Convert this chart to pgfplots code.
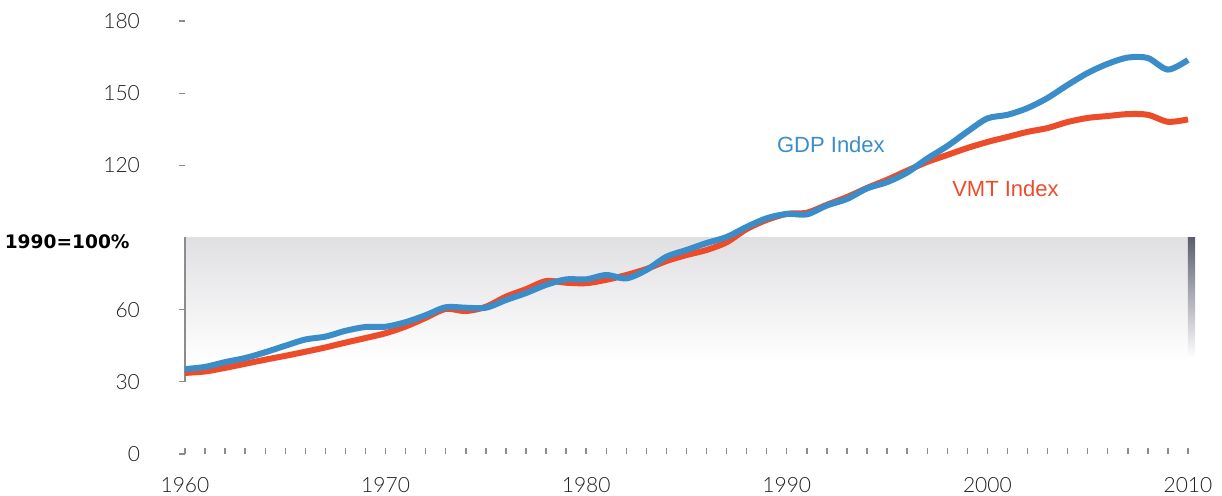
\documentclass[border=0pt]{standalone}
\usepackage{fontspec}
\setmainfont{Liberation Sans}
\newfontfamily\tickfont{Lato Light}
\newfontfamily\boldfont{DejaVu Sans}
\usepackage{pgfplots}
\pgfplotsset{compat=1.18}
\usepackage{pgfplotstable}
\definecolor{gdpblue}{RGB}{58,141,200}
\definecolor{vmtred}{RGB}{236,76,42}
\definecolor{bandtop}{RGB}{224,224,227}
\definecolor{bartop}{RGB}{92,94,110}
\definecolor{tickgray}{RGB}{140,140,140}
\definecolor{labelgray}{RGB}{30,30,30}

\pgfplotstableread{
year gdp vmt
1960 35.3 33.7
1961 36.2 34.3
1962 38.2 35.8
1963 39.9 37.5
1964 42.3 39.2
1965 45.0 40.8
1966 47.6 42.5
1967 48.8 44.3
1968 51.2 46.3
1969 52.8 48.2
1970 52.9 50.2
1971 54.8 53.0
1972 57.7 56.6
1973 61.0 60.3
1974 60.8 59.4
1975 60.8 61.2
1976 64.0 65.4
1977 66.9 68.5
1978 70.3 71.9
1979 72.6 71.2
1980 72.6 71.0
1981 74.4 72.4
1982 73.0 74.4
1983 76.5 76.9
1984 82.0 80.2
1985 84.8 82.7
1986 87.7 84.8
1987 90.2 88.0
1988 94.4 93.5
1989 98.0 97.3
1990 99.8 99.8
1991 99.6 100.3
1992 103.3 103.6
1993 106.0 106.8
1994 110.4 110.6
1995 113.0 114.0
1996 117.0 117.8
1997 122.8 121.4
1998 128.0 124.3
1999 134.0 127.2
2000 139.5 129.7
2001 141.0 131.8
2002 143.8 133.9
2003 148.0 135.5
2004 153.4 138.0
2005 158.4 139.7
2006 162.2 140.5
2007 164.8 141.3
2008 164.6 141.0
2009 159.8 138.1
2010 163.8 139.1
}\data

\begin{document}
\begin{tikzpicture}
\begin{axis}[
  at={(0,0)}, anchor=south west,
  scale only axis, width=501.5pt, height=216.5pt,
  xmin=1960, xmax=2010, ymin=0, ymax=180,
  clip=false,
  axis x line=bottom, axis y line=left,
  axis line style={draw=none,-},
  tick align=inside,
  major tick length=3.2pt, minor tick length=3.2pt,
  tick style={tickgray, line width=0.7pt},
  xtick={1960,1970,1980,1990,2000,2010},
  xticklabels={1960,1970,1980,1990,2000,2010},
  minor x tick num=9,
  ytick={0,30,60,120,150,180},
  yticklabels={0,30,60,120,150,180},
  every y tick/.style={tickgray, line width=0.6pt, xshift=-3.2pt},
  xticklabel style={font=\tickfont\fontsize{10.5}{12}\selectfont, text=labelgray, yshift=-8pt},
  yticklabel style={font=\tickfont\fontsize{10.5}{12}\selectfont, text=labelgray, xshift=-19pt},
]
\shade[top color=bandtop, bottom color=white] (axis cs:1960,38) rectangle (axis cs:2010,90);
\shade[top color=bartop, bottom color=white] (axis cs:2010,40) rectangle ([xshift=3.6pt]axis cs:2010,90);
\draw[tickgray, line width=0.6pt] (axis cs:1960,30) -- (axis cs:1960,90);
\addplot[vmtred, line width=3pt, smooth, no markers] table[x=year, y=vmt] {\data};
\addplot[gdpblue, line width=3pt, smooth, no markers] table[x=year, y=gdp] {\data};
\node[text=gdpblue, font=\fontsize{11}{13}\selectfont] at (axis cs:1992.2,128.7) {GDP Index};
\node[text=vmtred, font=\fontsize{11}{13}\selectfont] at (axis cs:2000.9,110.4) {VMT Index};
\node[anchor=east, inner sep=0pt, xshift=-27.5pt, text=black, font=\boldfont\bfseries\fontsize{9.3}{11}\selectfont] at (axis cs:1960,88.3) {1990=100\%};
\end{axis}
\pgfresetboundingbox
\path[use as bounding box] (-92.5pt,-21pt) rectangle (518.5pt,227pt);
\end{tikzpicture}
\end{document}
